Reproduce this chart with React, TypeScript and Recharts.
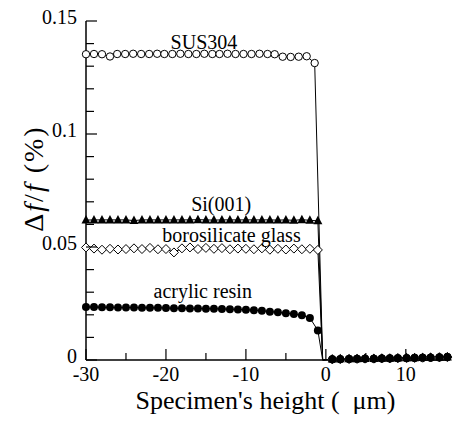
import React from "react";
import { LineChart, Line, XAxis, YAxis, ReferenceDot } from "recharts";

// x positions (µm) of the measured points
const SUS_X = [
  -30, -29.0, -28.0, -27.0, -26.1, -25.1, -24.1, -23.1, -22.1, -21.1, -20.2, -19.2, -18.2, -17.2, -16.2,
  -15.2, -14.2, -13.3, -12.3, -11.3, -10.3, -9.3, -8.3, -7.3, -6.4, -5.4, -4.4, -3.4, -2.4, -1.4,
];
const ON_X = [
  -30, -29, -28, -27, -26, -25, -24, -23, -22, -21, -20, -19, -18, -17, -16,
  -15, -14, -13, -12, -11, -10, -9, -8, -7, -6, -5, -4, -3, -2, -1,
];
const EDGE_X = -0.4;
const OFF_X = [0.8, 1.8, 2.9, 3.9, 4.9, 6.0, 7.0, 8.0, 9.0, 10.1, 11.1, 12.1, 13.1, 14.2, 15.2];

// Δf/f (%) on the specimen
const SUS304 = [
  0.1353, 0.1354, 0.1353, 0.1343, 0.1354, 0.1354, 0.1355, 0.1354, 0.1354, 0.1355, 0.1354, 0.1354, 0.1355, 0.1354, 0.1354,
  0.1355, 0.1354, 0.1354, 0.1355, 0.1354, 0.1354, 0.1354, 0.1355, 0.1354, 0.1353, 0.1342, 0.1341, 0.1342, 0.1344, 0.1314,
];
const SI001 = [
  0.0619, 0.0620, 0.0620, 0.0620, 0.0620, 0.0620, 0.0617, 0.0620, 0.0620, 0.0620, 0.0620, 0.0620, 0.0620, 0.0620, 0.0621,
  0.0620, 0.0619, 0.0620, 0.0620, 0.0620, 0.0620, 0.0620, 0.0620, 0.0620, 0.0619, 0.0620, 0.0618, 0.0621, 0.0618, 0.0616,
];
const BORO = [
  0.0498, 0.0493, 0.0488, 0.0492, 0.0489, 0.0491, 0.0494, 0.0491, 0.0496, 0.0490, 0.0491, 0.0476, 0.0494, 0.0498, 0.0491,
  0.0496, 0.0492, 0.0495, 0.0490, 0.0493, 0.0492, 0.0490, 0.0494, 0.0488, 0.0492, 0.0489, 0.0493, 0.0490, 0.0492, 0.0487,
];
const ACRYLIC = [
  0.0234, 0.0234, 0.0233, 0.0233, 0.0232, 0.0232, 0.0232, 0.0231, 0.0231, 0.0231, 0.0230, 0.0229, 0.0229, 0.0228, 0.0228,
  0.0227, 0.0227, 0.0226, 0.0225, 0.0224, 0.0222, 0.0220, 0.0218, 0.0214, 0.0211, 0.0207, 0.0203, 0.0198, 0.0186, 0.0131,
];

// off the specimen (after the edge)
const SUS304_OFF = [0.0003, 0.0004, 0.0005, 0.0005, 0.0006, 0.0006, 0.0007, 0.0008, 0.0008, 0.0009, 0.0010, 0.0010, 0.0011, 0.0012, 0.0014];
const SI001_OFF = [0.0004, 0.0005, 0.0006, 0.0006, 0.0007, 0.0007, 0.0008, 0.0008, 0.0009, 0.0010, 0.0010, 0.0011, 0.0012, 0.0012, 0.0013];
const BORO_OFF = [0.0003, 0.0004, 0.0004, 0.0005, 0.0006, 0.0006, 0.0007, 0.0007, 0.0008, 0.0009, 0.0009, 0.0010, 0.0011, 0.0012, 0.0013];
const ACRYLIC_OFF = [0.0003, 0.0003, 0.0004, 0.0005, 0.0005, 0.0006, 0.0007, 0.0007, 0.0008, 0.0008, 0.0009, 0.0010, 0.0010, 0.0011, 0.0012];

const X_TICKS = [-30, -25, -20, -15, -10, -5, 0, 5, 10, 15];
const X_LABELS: Record<number, string> = { [-30]: "-30", [-20]: "-20", [-10]: "-10", 0: "0", 10: "10" };
const Y_TICKS = [0, 0.01, 0.02, 0.03, 0.04, 0.05, 0.06, 0.07, 0.08, 0.09, 0.1, 0.11, 0.12, 0.13, 0.14, 0.15];
const Y_LABELS: Record<string, string> = { "0": "0", "0.05": "0.05", "0.1": "0.1", "0.15": "0.15" };

const SERIF = '"Liberation Serif", "Times New Roman", serif';
const LEFT_GAP = 9;
const BOTTOM_GAP = 6;

type Pt = { x: number; y: number; hidden?: boolean };

function build(xs: number[], ys: number[], off: number[]): Pt[] {
  return [
    ...xs.map((x, i) => ({ x, y: ys[i] })),
    { x: EDGE_X, y: 0, hidden: true },
    ...OFF_X.map((x, i) => ({ x, y: off[i] })),
  ];
}

const susData = build(SUS_X, SUS304, SUS304_OFF);
const siData = build(ON_X, SI001, SI001_OFF);
const boroData = build(ON_X, BORO, BORO_OFF);
const acrData = build(ON_X, ACRYLIC, ACRYLIC_OFF);

const yKey = (v: number) => String(Math.round(v * 100) / 100);

function marker(kind: "openCircle" | "filledCircle" | "triangle" | "diamond") {
  return (p: any) => {
    const { cx, cy, index, payload } = p;
    const key = `${kind}-${index}`;
    if (payload?.hidden || cx == null || cy == null) return <g key={key} />;
    if (kind === "openCircle")
      return <circle key={key} cx={cx} cy={cy} r={3.7} fill="#fff" stroke="#000" strokeWidth={1} />;
    if (kind === "filledCircle")
      return <circle key={key} cx={cx} cy={cy} r={4} fill="#000" />;
    if (kind === "triangle")
      return (
        <polygon
          key={key}
          points={`${cx},${cy - 5} ${cx - 4.5},${cy + 3.5} ${cx + 4.5},${cy + 3.5}`}
          fill="#000"
        />
      );
    return (
      <polygon
        key={key}
        points={`${cx},${cy - 4.5} ${cx + 4.5},${cy} ${cx},${cy + 4.5} ${cx - 4.5},${cy}`}
        fill="#fff"
        stroke="#000"
        strokeWidth={1}
      />
    );
  };
}

function LeftTick(p: any) {
  const v = p.payload.value as number;
  const label = Y_LABELS[yKey(v)];
  const ax = p.x + LEFT_GAP;
  return (
    <g>
      <line x1={ax} x2={ax + (label ? 11 : 8)} y1={p.y} y2={p.y} stroke="#000" strokeWidth={1.2} />
      {label && (
        <text x={p.x} y={p.y - 4} dy="0.35em" textAnchor="end" fontSize={20} fontFamily={SERIF} fill="#000">
          {label}
        </text>
      )}
    </g>
  );
}

function RightTick(p: any) {
  const v = p.payload.value as number;
  const major = !!Y_LABELS[yKey(v)];
  return <line x1={p.x} x2={p.x - (major ? 11 : 7)} y1={p.y} y2={p.y} stroke="#000" strokeWidth={1.2} />;
}

function BottomTick(p: any) {
  const v = p.payload.value as number;
  const label = X_LABELS[v];
  const ay = p.y - BOTTOM_GAP;
  return (
    <g>
      <line x1={p.x} x2={p.x} y1={ay} y2={ay - (label ? 11 : 7)} stroke="#000" strokeWidth={1.2} />
      {label && (
        <text x={p.x} y={p.y} dy="0.75em" textAnchor="middle" fontSize={20} fontFamily={SERIF} fill="#000">
          {label}
        </text>
      )}
    </g>
  );
}

function TopTick(p: any) {
  const v = p.payload.value as number;
  const major = !!X_LABELS[v];
  return <line x1={p.x} x2={p.x} y1={p.y} y2={p.y + (major ? 11 : 7)} stroke="#000" strokeWidth={1.2} />;
}

const axisLine = { stroke: "#000", strokeWidth: 1.5 };

const seriesLabel = (value: string) => ({
  value,
  position: "center" as const,
  fill: "#000",
  fontSize: 20,
  fontFamily: SERIF,
});

export default function App() {
  return (
    <div
      style={{
        position: "absolute",
        left: 0,
        top: 0,
        width: 455,
        height: 422,
        background: "#fff",
        fontFamily: SERIF,
      }}
    >
      <LineChart width={455} height={422} margin={{ top: 21, right: 6, bottom: 0, left: 0 }}>
        <XAxis
          xAxisId="b"
          type="number"
          dataKey="x"
          domain={[-30, 15.4]}
          ticks={X_TICKS}
          interval={0}
          height={62}
          tickSize={0}
          tickMargin={BOTTOM_GAP}
          tickLine={false}
          axisLine={axisLine}
          tick={(p: any) => <BottomTick {...p} />}
          label={{
            content: (lp: any) => {
              const vb = lp.viewBox;
              return (
                <text
                  x={vb.x + vb.width / 2 - 2}
                  y={vb.y + 49}
                  textAnchor="middle"
                  fontSize={26}
                  fontFamily={SERIF}
                  fill="#000"
                  style={{ whiteSpace: "pre" }}
                >
                  {"Specimen's height (  \u03bcm)"}
                </text>
              );
            },
          }}
        />
        <XAxis
          xAxisId="t"
          orientation="top"
          type="number"
          dataKey="x"
          domain={[-30, 15.4]}
          ticks={X_TICKS}
          interval={0}
          height={0}
          tickSize={0}
          tickMargin={0}
          tickLine={false}
          axisLine={axisLine}
          tick={(p: any) => <TopTick {...p} />}
        />
        <YAxis
          yAxisId="l"
          type="number"
          domain={[0, 0.15]}
          ticks={Y_TICKS}
          interval={0}
          width={86}
          tickSize={0}
          tickMargin={LEFT_GAP}
          tickLine={false}
          axisLine={axisLine}
          tick={(p: any) => <LeftTick {...p} />}
          label={{
            content: (lp: any) => {
              const vb = lp.viewBox;
              const cx = 33;
              const cy = vb.y + vb.height / 2 - 12;
              return (
                <text
                  x={cx}
                  y={cy}
                  dy="0.35em"
                  transform={`rotate(-90, ${cx}, ${cy})`}
                  textAnchor="middle"
                  fontSize={28}
                  letterSpacing={2}
                  fontFamily={SERIF}
                  fill="#000"
                  style={{ whiteSpace: "pre" }}
                >
                  {"\u0394"}
                  <tspan fontStyle="italic">f</tspan>
                  {"/"}
                  <tspan fontStyle="italic">f</tspan>
                  {" (%)"}
                </text>
              );
            },
          }}
        />
        <YAxis
          yAxisId="r"
          orientation="right"
          type="number"
          domain={[0, 0.15]}
          ticks={Y_TICKS}
          interval={0}
          width={0}
          tickSize={0}
          tickMargin={0}
          tickLine={false}
          axisLine={axisLine}
          tick={(p: any) => <RightTick {...p} />}
        />

        <Line
          xAxisId="b"
          yAxisId="l"
          data={susData}
          dataKey="y"
          stroke="#000"
          strokeWidth={1}
          dot={marker("openCircle")}
          activeDot={false}
          isAnimationActive={false}
        />
        <Line
          xAxisId="b"
          yAxisId="l"
          data={boroData}
          dataKey="y"
          stroke="#000"
          strokeWidth={1}
          dot={marker("diamond")}
          activeDot={false}
          isAnimationActive={false}
        />
        <Line
          xAxisId="b"
          yAxisId="l"
          data={acrData}
          dataKey="y"
          stroke="#000"
          strokeWidth={1}
          dot={marker("filledCircle")}
          activeDot={false}
          isAnimationActive={false}
        />
        <Line
          xAxisId="b"
          yAxisId="l"
          data={siData}
          dataKey="y"
          stroke="#000"
          strokeWidth={1}
          dot={marker("triangle")}
          activeDot={false}
          isAnimationActive={false}
        />

        <ReferenceDot xAxisId="b" yAxisId="l" x={-15.25} y={0.1407} r={0} fill="none" stroke="none" label={seriesLabel("SUS304")} />
        <ReferenceDot xAxisId="b" yAxisId="l" x={-13.1} y={0.069} r={0} fill="none" stroke="none" label={seriesLabel("Si(001)")} />
        <ReferenceDot xAxisId="b" yAxisId="l" x={-11.8} y={0.0553} r={0} fill="none" stroke="none" label={seriesLabel("borosilicate glass")} />
        <ReferenceDot xAxisId="b" yAxisId="l" x={-15.4} y={0.0305} r={0} fill="none" stroke="none" label={seriesLabel("acrylic resin")} />
      </LineChart>
    </div>
  );
}
